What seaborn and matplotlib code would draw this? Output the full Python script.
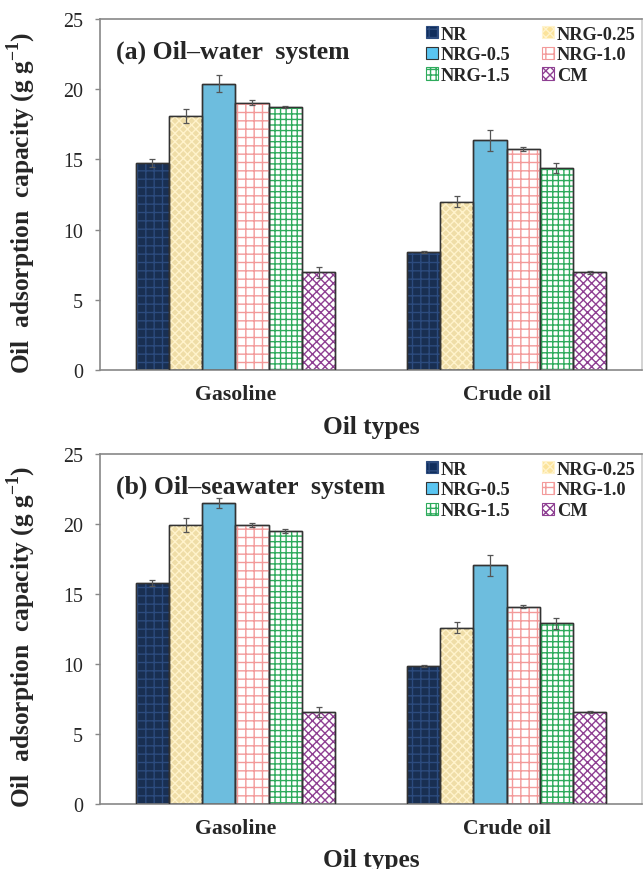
import matplotlib
matplotlib.use("Agg")
import matplotlib.pyplot as plt
from matplotlib.patches import Rectangle, Patch
import seaborn as sns
import pandas as pd

oils = ["Gasoline", "Crude oil"]
samples = ["NR", "NRG-0.25", "NRG-0.5", "NRG-1.0", "NRG-1.5", "CM"]

# (a) oil-water
water_gas = [14.75, 18.08, 20.4, 19.03, 18.72, 6.95]
water_gas_err = [0.3, 0.5, 0.58, 0.18, 0.08, 0.38]
water_crude = [8.38, 12.0, 16.35, 15.75, 14.38, 6.95]
water_crude_err = [0.08, 0.4, 0.75, 0.12, 0.36, 0.1]

# (b) oil-seawater
sea_gas = [15.78, 19.94, 21.5, 19.92, 19.49, 6.58]
sea_gas_err = [0.22, 0.5, 0.38, 0.15, 0.15, 0.38]
sea_crude = [9.85, 12.6, 17.05, 14.1, 12.9, 6.57]
sea_crude_err = [0.08, 0.4, 0.74, 0.1, 0.38, 0.1]

face_colors = ["#0f2d5c", "#fbe39b", "#5ac5f1", "#ffffff", "#ffffff", "#ffffff"]
hatches = ["++", "xxxx", None, "++", "+++", "xxxx"]
hatch_colors = ["#2c4b7e", "#fff3cc", "#5ac5f1", "#f39a9a", "#2eab5c", "#8e3f92"]

sns.set_style("white")
plt.rcParams["font.family"] = ["Liberation Serif", "DejaVu Serif"]
plt.rcParams["mathtext.fontset"] = "custom"
plt.rcParams["mathtext.rm"] = "Liberation Serif"
plt.rcParams["mathtext.bf"] = "Liberation Serif:bold"
plt.rcParams["hatch.linewidth"] = 1.0


def draw_panel(ax, gas, crude, gas_err, crude_err, title):
    df = pd.DataFrame({
        "oil": [o for o in oils for s in samples],
        "sample": samples * 2,
        "value": gas + crude,
    })
    sns.barplot(data=df, x="oil", y="value", hue="sample", order=oils,
                hue_order=samples, palette=face_colors, width=0.735,
                errorbar=None, edgecolor="#333333", linewidth=1.0,
                legend=False, ax=ax)

    bars = list(ax.containers)
    for i, cont in enumerate(bars):
        for p in cont.patches:
            if hatches[i]:
                ax.add_patch(Rectangle(p.get_xy(), p.get_width(), p.get_height(),
                                       facecolor="none", edgecolor=hatch_colors[i],
                                       hatch=hatches[i], lw=0, zorder=2.5))
            ax.add_patch(Rectangle(p.get_xy(), p.get_width(), p.get_height(),
                                   fill=False, edgecolor="#333333", lw=1.0, zorder=2.6))
        xs = [p.get_x() + p.get_width() / 2 for p in cont.patches]
        ys = [p.get_height() for p in cont.patches]
        ax.errorbar(xs, ys, yerr=[gas_err[i], crude_err[i]], fmt="none",
                    ecolor="#555555", elinewidth=0.9, capsize=2.2, capthick=0.9,
                    zorder=4)

    ax.set_xlim(-0.5, 1.5)
    ax.set_ylim(0, 25)
    ax.set_yticks([0, 5, 10, 15, 20, 25])
    ax.tick_params(axis="y", length=3.6, width=1, color="#888888", pad=8.6,
                   labelsize=14.4, left=True)
    ax.tick_params(axis="x", length=0, pad=10, labelsize=15.7)
    for lab in ax.get_xticklabels():
        lab.set_fontweight("bold")
    for s in ["left", "bottom", "top", "right"]:
        ax.spines[s].set_color("#888888")
        ax.spines[s].set_linewidth(1.2)
    ax.spines["right"].set_color("#cccccc")

    ax.set_ylabel("Oil  adsorption  capacity (g g$^{\\mathbf{-1}}$)",
                  fontsize=18.3, fontweight="bold")
    ax.yaxis.set_label_coords(-0.114, 0.48)
    ax.set_xlabel("Oil types", fontsize=18.3, fontweight="bold")
    ax.xaxis.set_label_coords(0.5, -0.127)

    ax.text(0.03, 0.909, title, transform=ax.transAxes, fontsize=18.5,
            fontweight="bold", va="center", ha="left")

    handles = [Patch(facecolor=face_colors[i], edgecolor="#333333",
                     hatch=hatches[i], lw=0.8) for i in range(len(samples))]
    for i, h in enumerate(handles):
        if hatches[i]:
            h.set_edgecolor(hatch_colors[i])
    order = [0, 2, 4, 1, 3, 5]
    ax.legend([handles[k] for k in order], [samples[k] for k in order],
              ncol=2, loc="upper left", bbox_to_anchor=(0.584, 1.007),
              frameon=False, borderpad=0, handlelength=0.65,
              handleheight=0.65, handletextpad=0.15, columnspacing=1.75,
              labelspacing=0.2, prop={"weight": "bold", "size": 13.2})


fig = plt.figure(figsize=(6.43, 8.70), dpi=100)
ax1 = fig.add_axes([0.1555, 0.5736, 0.843, 0.4034])
ax2 = fig.add_axes([0.1555, 0.0747, 0.843, 0.4023])

draw_panel(ax1, water_gas, water_crude, water_gas_err, water_crude_err,
           "(a) Oil\u2013water  system")
draw_panel(ax2, sea_gas, sea_crude, sea_gas_err, sea_crude_err,
           "(b) Oil\u2013seawater  system")

fig.savefig("out.png", dpi=100)
